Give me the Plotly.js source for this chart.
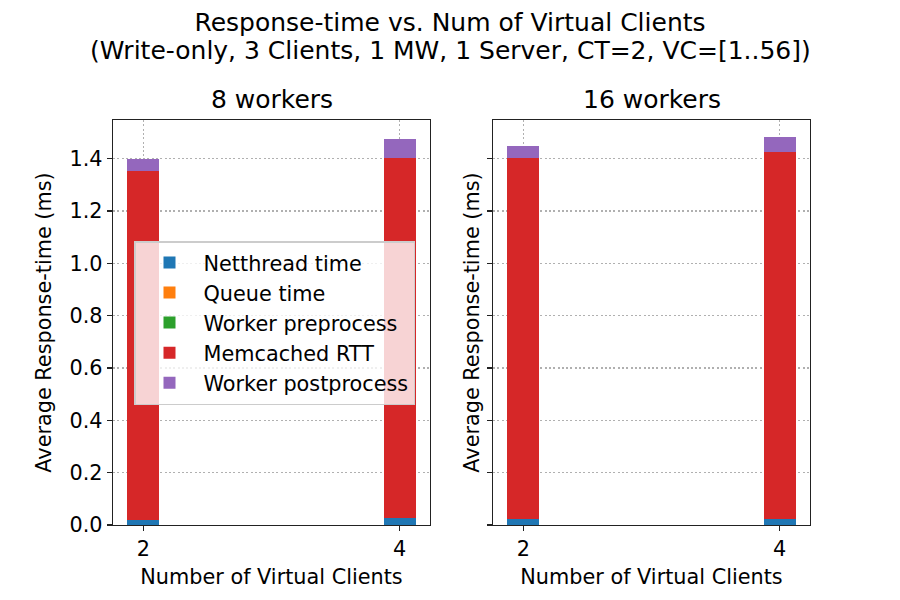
<!DOCTYPE html>
<html>
<head>
<meta charset="utf-8">
<script src="https://cdn.plot.ly/plotly-3.0.1.min.js"></script>
<style>html,body{margin:0;padding:0;background:#fff;}#chart{width:900px;height:600px;}</style>
</head>
<body>
<div id="chart"></div>
<script>
// ---- data ----
const virtualClients = [2, 4];
const components = ["Netthread time", "Queue time", "Worker preprocess", "Memcached RTT", "Worker postprocess"];
const colors = ["#1f77b4", "#ff7f0e", "#2ca02c", "#d62728", "#9467bd"];
// 8 workers
const w8_netthread = [0.020, 0.028];
const w8_queue = [0.000, 0.000];
const w8_preprocess = [0.000, 0.000];
const w8_memcached = [1.333, 1.375];
const w8_postprocess = [0.045, 0.073];
// 16 workers
const w16_netthread = [0.023, 0.023];
const w16_queue = [0.000, 0.000];
const w16_preprocess = [0.000, 0.000];
const w16_memcached = [1.380, 1.404];
const w16_postprocess = [0.047, 0.057];

const titleLine1 = "Response-time vs. Num of Virtual Clients";
const titleLine2 = "(Write-only, 3 Clients, 1 MW, 1 Server, CT=2, VC=[1..56])";
const subTitles = ["8 workers", "16 workers"];
const xTitle = "Number of Virtual Clients";
const yTitle = "Average Response-time (ms)";

const FONT = "'DejaVu Sans', sans-serif";
const FS = 20.8;   // 10pt @150dpi
const FT = 25;     // 12pt @150dpi
const sets = [
  [w8_netthread, w8_queue, w8_preprocess, w8_memcached, w8_postprocess],
  [w16_netthread, w16_queue, w16_preprocess, w16_memcached, w16_postprocess]
];

const traces = [];
sets.forEach((s, si) => {
  s.forEach((vals, ci) => {
    traces.push({
      type: "bar",
      x: virtualClients,
      y: vals,
      width: 0.25,
      name: components[ci],
      legendgroup: components[ci],
      showlegend: si === 0,
      marker: {color: colors[ci], line: {width: 0}},
      xaxis: si === 0 ? "x" : "x2",
      yaxis: si === 0 ? "y" : "y2",
      hoverinfo: "x+y+name"
    });
  });
});

const axisCommon = {
  showline: true, mirror: true, linecolor: "#222", linewidth: 1.3,
  ticks: "outside", ticklen: 5, tickwidth: 1.3, tickcolor: "#222",
  showgrid: true, gridcolor: "#b0b0b0", griddash: "2px,2.3px", gridwidth: 1.2,
  zeroline: false, layer: "above traces",
  tickfont: {family: FONT, size: FS, color: "#000"}
};
const xRange = [1.7625, 4.2375];
const yRange = [0, 1.548];

const layout = {
  width: 900, height: 600,
  margin: {l: 0, r: 0, t: 0, b: 0},
  paper_bgcolor: "#fff", plot_bgcolor: "#fff",
  font: {family: FONT, color: "#000"},
  barmode: "stack",
  title: {text: titleLine1, font: {family: FONT, size: FT, color: "#000"}, x: 0.5, xanchor: "center", y: 1 - 22/600, yanchor: "middle"},
  xaxis: Object.assign({}, axisCommon, {domain: [113/900, 430/900], range: xRange, tickvals: virtualClients, ticktext: virtualClients.map(String), anchor: "y",
    title: {text: xTitle, font: {family: FONT, size: FS}, standoff: 9}}),
  yaxis: Object.assign({}, axisCommon, {domain: [75/600, 480/600], range: yRange, dtick: 0.2, tickformat: ".1f", anchor: "x",
    title: {text: yTitle, font: {family: FONT, size: FS}, standoff: 12}}),
  xaxis2: Object.assign({}, axisCommon, {domain: [493/900, 810/900], range: xRange, tickvals: virtualClients, ticktext: virtualClients.map(String), anchor: "y2",
    title: {text: xTitle, font: {family: FONT, size: FS}, standoff: 9}}),
  yaxis2: Object.assign({}, axisCommon, {domain: [75/600, 480/600], range: yRange, dtick: 0.2, showticklabels: false, anchor: "x2",
    title: {text: yTitle, font: {family: FONT, size: FS}, standoff: 1}}),
  legend: {
    x: 134/900, y: 1 - 241/600, xanchor: "left", yanchor: "top",
    bgcolor: "rgba(255,255,255,0.8)", bordercolor: "#cccccc", borderwidth: 1.5,
    font: {family: FONT, size: FS, color: "#000"},
    traceorder: "grouped", tracegroupgap: 0, itemwidth: 58
  },
  annotations: [
    {text: titleLine2, xref: "paper", yref: "paper", x: 0.5, y: 1 - 50/600, xanchor: "center", yanchor: "middle", showarrow: false, font: {family: FONT, size: FT, color: "#000"}},
    {text: subTitles[0], xref: "paper", yref: "paper", x: (113+430)/2/900, y: 1 - 100/600, xanchor: "center", yanchor: "middle", showarrow: false, font: {family: FONT, size: FT, color: "#000"}},
    {text: subTitles[1], xref: "paper", yref: "paper", x: (493+810)/2/900, y: 1 - 100/600, xanchor: "center", yanchor: "middle", showarrow: false, font: {family: FONT, size: FT, color: "#000"}}
  ]
};

Plotly.newPlot("chart", traces, layout, {staticPlot: true, displayModeBar: false});
</script>
</body>
</html>
